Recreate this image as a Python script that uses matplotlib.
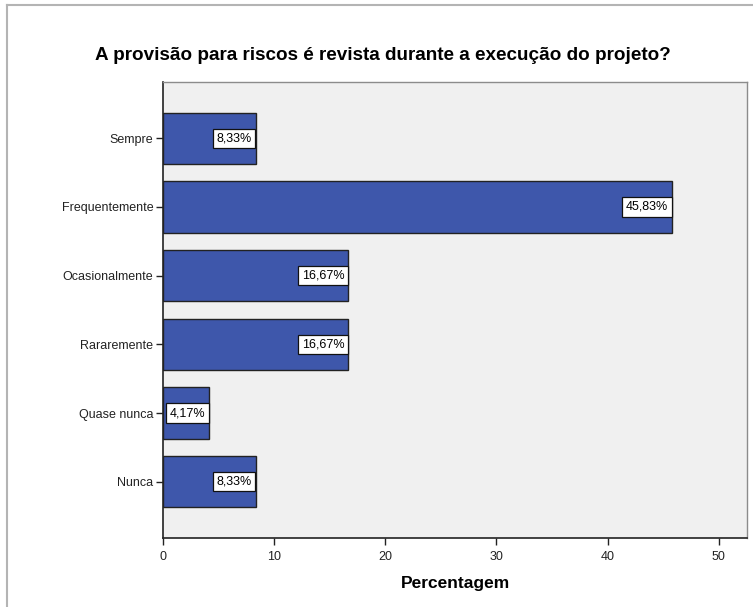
import matplotlib
matplotlib.use("Agg")
import matplotlib.pyplot as plt
from matplotlib.lines import Line2D

plt.rcParams['font.family'] = ['Liberation Sans', 'DejaVu Sans']

categorias = ["Sempre", "Frequentemente", "Ocasionalmente", "Rararemente", "Quase nunca", "Nunca"]
percentagens = [8.33, 45.83, 16.67, 16.67, 4.17, 8.33]
rotulos = ["8,33%", "45,83%", "16,67%", "16,67%", "4,17%", "8,33%"]
xticks = [0, 10, 20, 30, 40, 50]

W, H = 753, 607
fig = plt.figure(figsize=(W / 100, H / 100), dpi=100)
fig.patch.set_facecolor("white")

# moldura cinzenta (cortada à direita e em baixo)
fig.add_artist(Line2D([7 / W, 1], [1 - 5 / H, 1 - 5 / H], transform=fig.transFigure,
                      color="#b4b4b4", lw=1.5))
fig.add_artist(Line2D([7 / W, 7 / W], [0, 1 - 5 / H], transform=fig.transFigure,
                      color="#b4b4b4", lw=1.5))

ax = fig.add_axes([163 / W, 1 - 538 / H, (747 - 163) / W, (538 - 82) / H])
ax.set_facecolor("#f0f0f0")

n = len(categorias)
pos = list(range(n - 1, -1, -1))
ax.barh(pos, percentagens, height=0.745, color="#3e57ab", edgecolor="#222222", linewidth=1.0)

for p, v, r in zip(pos, percentagens, rotulos):
    ax.annotate(r, xy=(v, p), xytext=(-2.8, 0), textcoords="offset points",
                ha="right", va="center", fontsize=9, color="black",
                bbox=dict(boxstyle="square,pad=0.3", facecolor="white",
                          edgecolor="#111111", linewidth=0.9))

ax.set_xlim(0, 52.55)
ax.set_ylim(-0.82, n - 1 + 0.82)
ax.set_yticks(pos)
ax.set_yticklabels(categorias)
ax.set_xticks(xticks)

ax.tick_params(axis="both", direction="out", length=5, width=1, colors="#222222",
               labelsize=9, pad=2)
ax.tick_params(axis="x", pad=4)
for s in ["left", "bottom"]:
    ax.spines[s].set_color("#222222")
    ax.spines[s].set_linewidth(1.2)
for s in ["top", "right"]:
    ax.spines[s].set_color("#8c8c8c")
    ax.spines[s].set_linewidth(1.0)

ax.set_xlabel("Percentagem", fontsize=12.5, fontweight="bold", labelpad=10)
fig.text(383 / W, 1 - 56 / H, "A provisão para riscos é revista durante a execução do projeto?",
         ha="center", va="center", fontsize=13.6, fontweight="bold")

fig.savefig("out.png", dpi=100)
